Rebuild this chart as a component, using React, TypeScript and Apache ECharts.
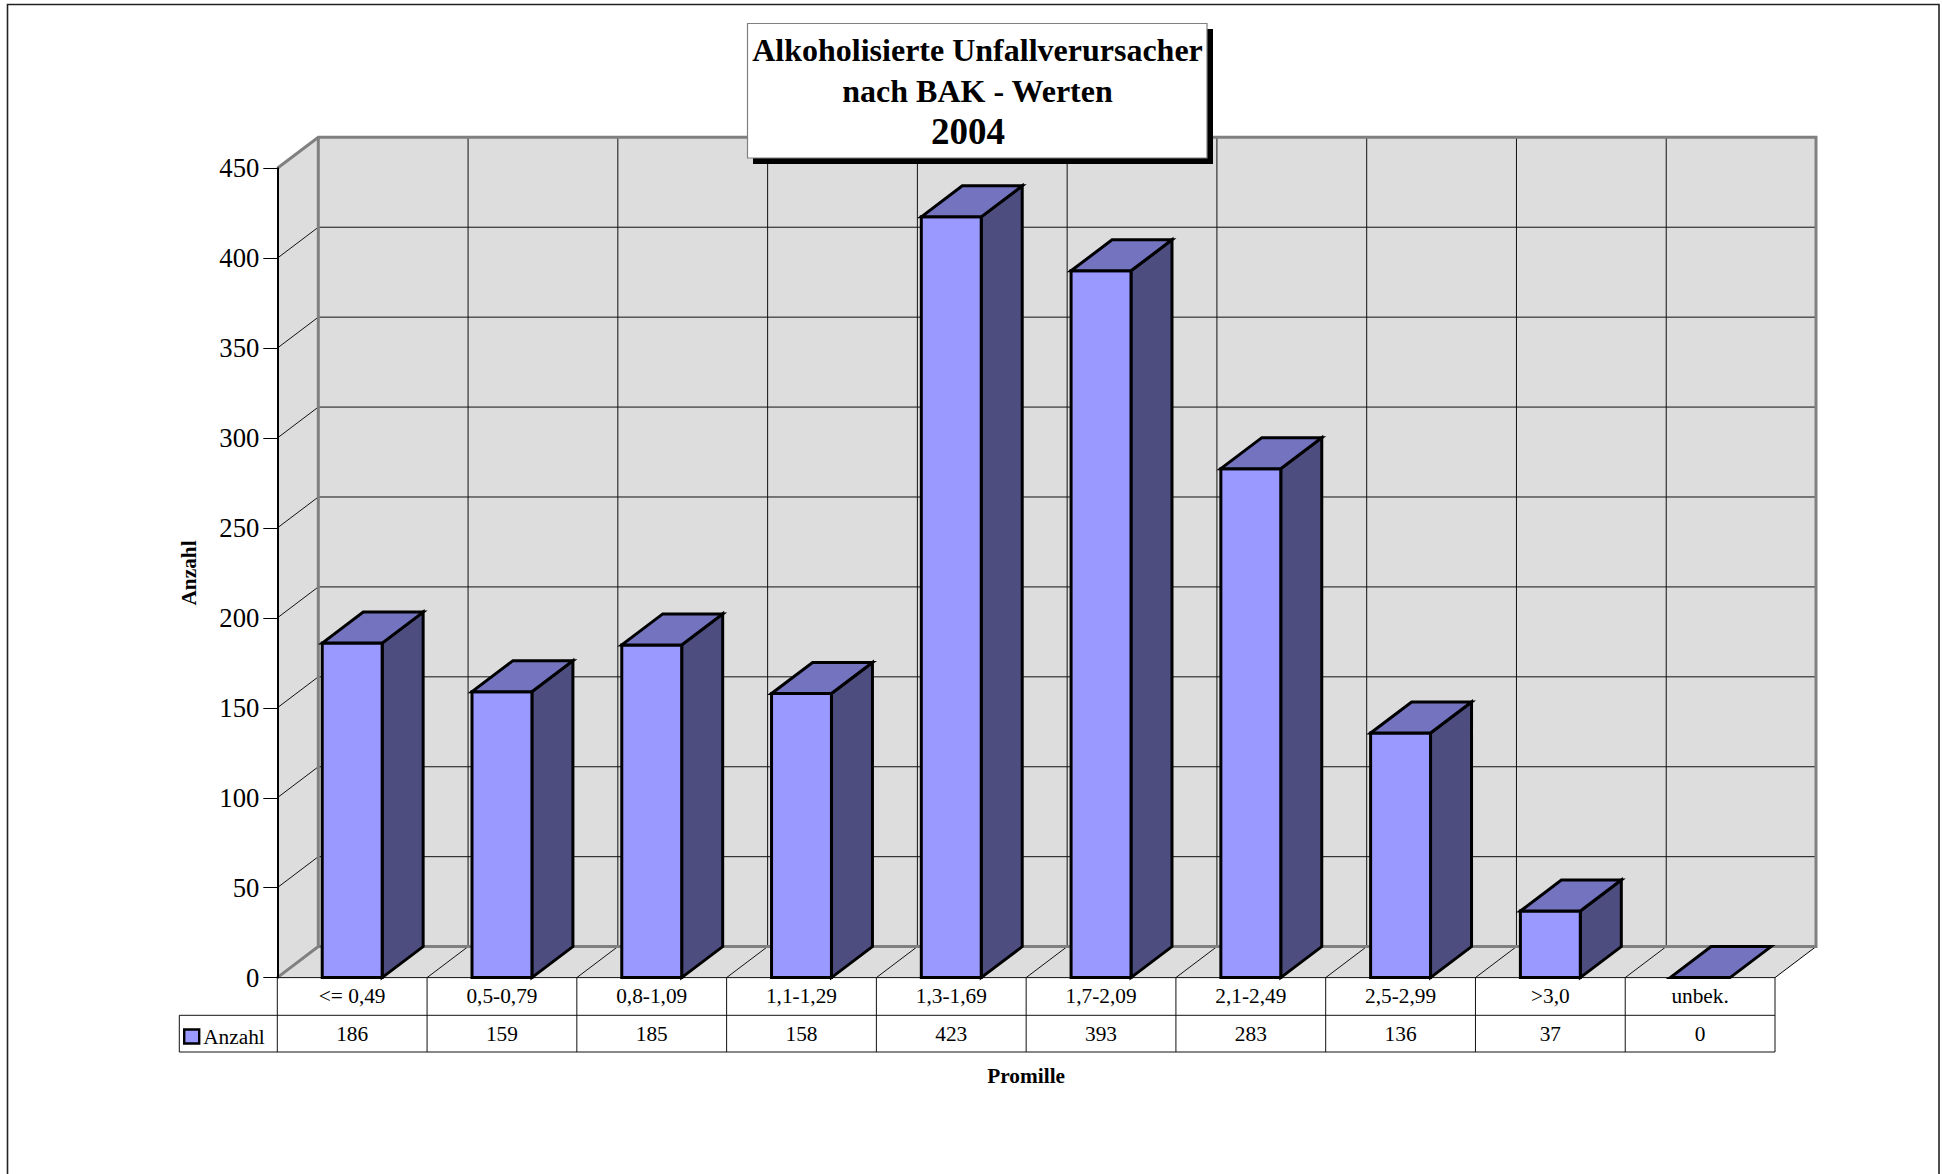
import React, { useEffect, useRef } from "react";
import * as echarts from "echarts";

const categories = ["<= 0,49", "0,5-0,79", "0,8-1,09", "1,1-1,29", "1,3-1,69", "1,7-2,09", "2,1-2,49", "2,5-2,99", ">3,0", "unbek."];
const anzahl = [186, 159, 185, 158, 423, 393, 283, 136, 37, 0];
const yTicks = [0, 50, 100, 150, 200, 250, 300, 350, 400, 450];
const titleLines = ["Alkoholisierte Unfallverursacher", "nach BAK - Werten"];
const titleYear = "2004";

const SERIF = '"Liberation Serif", serif';
const DX = 41;
const DY = -31;
const ROW1 = 1015.3;
const ROW2 = 1052;
const TABLE_LEFT = 179.3;

function line(x1: number, y1: number, x2: number, y2: number, stroke: string, lineWidth: number) {
  return { type: "line", shape: { x1, y1, x2, y2 }, style: { stroke, lineWidth, fill: null } };
}

function renderWalls(_: any, api: any) {
  const w = api.size([1, 0])[0];
  const x0 = api.coord([0, 0])[0] - w / 2;
  const xN = x0 + w * categories.length;
  const y0 = api.coord([0, 0])[1];
  const yTop = api.coord([0, yTicks[yTicks.length - 1]])[1];
  const wall = "#dddddd";
  const edge = "#808080";
  const thin = "#111111";
  const children: any[] = [
    { type: "polygon", shape: { points: [[x0 + DX, yTop + DY], [xN + DX, yTop + DY], [xN + DX, y0 + DY], [x0 + DX, y0 + DY]] }, style: { fill: wall } },
    { type: "polygon", shape: { points: [[x0, yTop], [x0 + DX, yTop + DY], [x0 + DX, y0 + DY], [x0, y0]] }, style: { fill: wall } },
    { type: "polygon", shape: { points: [[x0, y0], [x0 + DX, y0 + DY], [xN + DX, y0 + DY], [xN, y0]] }, style: { fill: wall } },
  ];
  yTicks.forEach((t, i) => {
    const y = api.coord([0, t])[1];
    if (i > 0 && i < yTicks.length - 1) {
      children.push(line(x0 + DX, y + DY, xN + DX, y + DY, thin, 1));
      children.push(line(x0, y, x0 + DX, y + DY, thin, 1));
    }
  });
  categories.forEach((_c, i) => {
    const x = x0 + w * i;
    if (i > 0) {
      children.push(line(x + DX, yTop + DY, x + DX, y0 + DY, thin, 1));
      children.push(line(x, y0, x + DX, y0 + DY, thin, 1));
    }
  });
  children.push(line(xN, y0, xN + DX, y0 + DY, "#000000", 1));
  children.push({
    type: "polyline",
    shape: { points: [[x0, y0], [x0 + DX, y0 + DY], [xN + DX, y0 + DY], [xN + DX, yTop + DY], [x0 + DX, yTop + DY], [x0, yTop]] },
    style: { stroke: edge, lineWidth: 3, fill: null },
  });
  children.push(line(x0 + DX, yTop + DY, x0 + DX, y0 + DY, edge, 3));
  // data table rules
  children.push(line(x0, y0, xN, y0, thin, 1));
  children.push(line(TABLE_LEFT, ROW1, xN, ROW1, thin, 1));
  children.push(line(TABLE_LEFT, ROW2, xN, ROW2, thin, 1));
  children.push(line(TABLE_LEFT, ROW1, TABLE_LEFT, ROW2, thin, 1));
  for (let i = 0; i <= categories.length; i++) {
    const x = x0 + w * i;
    children.push(line(x, y0, x, ROW2, thin, 1));
  }
  return { type: "group", children };
}

function renderBar(_: any, api: any) {
  const cat = api.value(0);
  const val = api.value(1);
  const [cx, yv] = api.coord([cat, val]);
  const y0 = api.coord([cat, 0])[1];
  const hw = api.size([1, 0])[0] * 0.2;
  const l = cx - hw;
  const r = cx + hw;
  const stroke = { stroke: "#000000", lineWidth: 3, lineJoin: "miter" };
  const children: any[] = [];
  if (val > 0) {
    children.push({ type: "polygon", shape: { points: [[r, yv], [r + DX, yv + DY], [r + DX, y0 + DY], [r, y0]] }, style: { fill: "#4d4d80", ...stroke } });
    children.push({ type: "polygon", shape: { points: [[l, yv], [r, yv], [r, y0], [l, y0]] }, style: { fill: "#9999ff", ...stroke } });
  }
  children.push({ type: "polygon", shape: { points: [[l, yv], [l + DX, yv + DY], [r + DX, yv + DY], [r, yv]] }, style: { fill: "#7373bf", ...stroke } });
  return { type: "group", children };
}

function renderValueCell(_: any, api: any) {
  const cat = api.value(0);
  const x = api.coord([cat, 0])[0];
  return {
    type: "text",
    style: {
      text: String(api.value(1)),
      x,
      y: 1034,
      align: "center",
      verticalAlign: "middle",
      font: `21.33px ${SERIF}`,
      fill: "#000000",
    },
  };
}

export default function App() {
  const ref = useRef<HTMLDivElement>(null);
  useEffect(() => {
    const chart = echarts.init(ref.current!, null, { renderer: "svg" });
    const pairs = anzahl.map((v, i) => [i, v]);
    chart.setOption({
      animation: false,
      backgroundColor: "#ffffff",
      textStyle: { fontFamily: SERIF },
      grid: { left: 277.3, top: 168.3, width: 1497.7, height: 809.3, containLabel: false },
      legend: {
        show: true,
        left: 183,
        top: 1026,
        padding: 0,
        itemWidth: 15,
        itemHeight: 14,
        itemGap: 0,
        icon: "rect",
        data: ["Anzahl"],
        z: 20,
        selectedMode: false,
        textStyle: { fontFamily: SERIF, fontSize: 21.33, color: "#000", padding: [2, 0, 0, -1] },
        itemStyle: { borderColor: "#000", borderWidth: 2.4 },
      },
      xAxis: {
        type: "category",
        data: categories,
        name: "Promille",
        nameLocation: "middle",
        nameGap: 88,
        nameTextStyle: { fontFamily: SERIF, fontSize: 21.33, fontWeight: "bold", color: "#000" },
        axisLine: { show: false },
        axisTick: { show: false },
        splitLine: { show: false },
        axisLabel: { interval: 0, margin: 7.5, fontFamily: SERIF, fontSize: 21.33, color: "#000" },
        z: 6,
      },
      yAxis: {
        type: "value",
        min: 0,
        max: 450,
        interval: 50,
        name: "Anzahl",
        nameLocation: "middle",
        nameRotate: 90,
        nameGap: 78,
        nameTextStyle: { fontFamily: SERIF, fontSize: 21.33, fontWeight: "bold", color: "#000" },
        axisLine: { show: true, lineStyle: { color: "#000", width: 2 } },
        axisTick: { show: true, length: 14, lineStyle: { color: "#000", width: 1 } },
        splitLine: { show: false },
        axisLabel: { margin: 18, fontFamily: SERIF, fontSize: 26.67, color: "#000" },
        z: 3,
      },
      series: [
        { type: "custom", name: "walls", data: [[0, 0]], renderItem: renderWalls, z: 1, silent: true, clip: false },
        { type: "custom", name: "Anzahl", data: pairs, renderItem: renderBar, z: 4, clip: false, encode: { x: 0, y: 1 }, itemStyle: { color: "#9999ff" } },
        { type: "custom", name: "cells", data: pairs, renderItem: renderValueCell, z: 5, clip: false, encode: { x: 0, y: 1 } },
      ],
      graphic: [
        { type: "polyline", z: 0, silent: true, shape: { points: [[7.5, 1180], [7.5, 4.5], [1939, 4.5], [1939, 1180]] }, style: { stroke: "#222", lineWidth: 1.6, fill: null } },
        { type: "rect", z: 30, shape: { x: 753, y: 29, width: 460, height: 135 }, style: { fill: "#000" } },
        { type: "rect", z: 31, shape: { x: 747.5, y: 23.5, width: 459.5, height: 134.5 }, style: { fill: "#fff", stroke: "#808080", lineWidth: 1.2 } },
        { type: "text", z: 32, style: { text: titleLines[0], x: 977.5, y: 50, align: "center", verticalAlign: "middle", font: `bold 32px ${SERIF}`, fill: "#000" } },
        { type: "text", z: 32, style: { text: titleLines[1], x: 977.5, y: 90.5, align: "center", verticalAlign: "middle", font: `bold 32px ${SERIF}`, fill: "#000" } },
        { type: "text", z: 32, style: { text: titleYear, x: 968, y: 131, align: "center", verticalAlign: "middle", font: `bold 37px ${SERIF}`, fill: "#000" } },
      ],
    });
    return () => chart.dispose();
  }, []);
  return <div ref={ref} style={{ position: "fixed", left: 0, top: 0, width: 1942, height: 1174 }} />;
}
